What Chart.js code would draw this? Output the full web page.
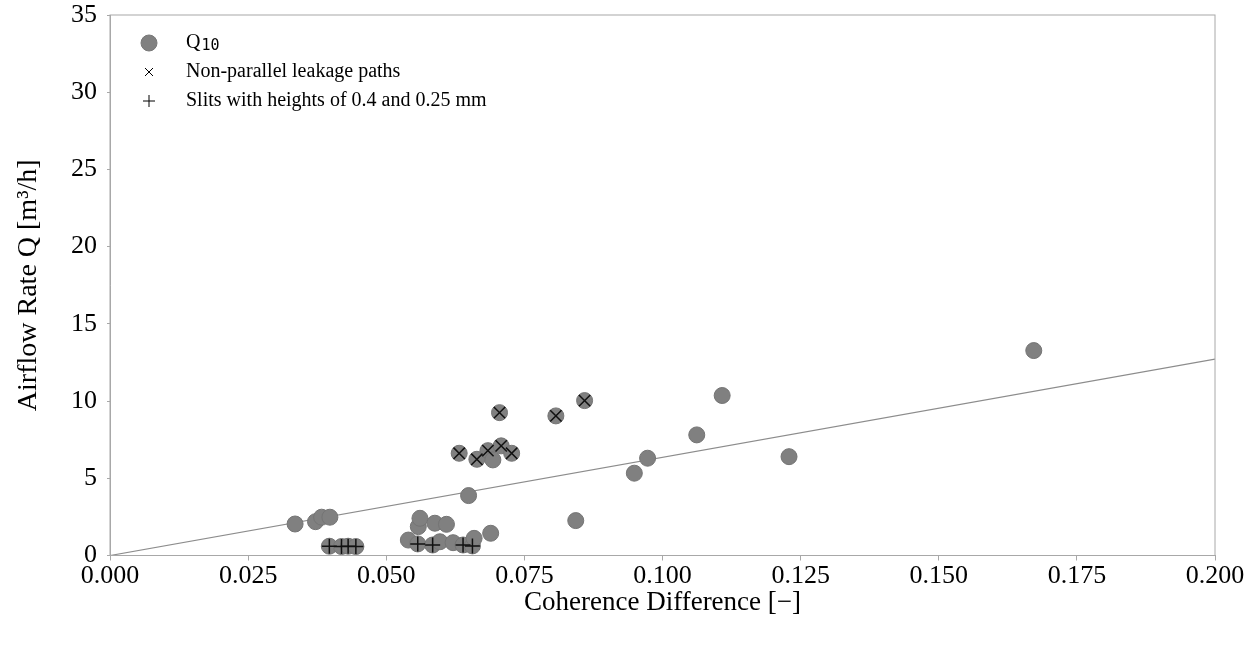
<!DOCTYPE html>
<html>
<head>
    <meta charset='utf-8'>
    <title>Airflow Rate vs Coherence Difference</title>
    <script src='https://cdn.jsdelivr.net/npm/chart.js@4.4.1/dist/chart.umd.min.js'></script>
    <style>
        html, body { margin: 0; padding: 0; background: #fff; }
        #wrap { width: 1260px; height: 649px; }
    </style>
</head>
<body>
<div id="wrap"><canvas id="myChart"></canvas></div>
<script>
// Q10 points (coherence difference, airflow rate)
const qX = [0.0335, 0.0372, 0.0383, 0.0398, 0.0397, 0.0419, 0.0431, 0.0445,
            0.0540, 0.0557, 0.0558, 0.0561, 0.0584, 0.0588, 0.0597, 0.0609, 0.0621,
            0.0639, 0.0656, 0.0659, 0.0649, 0.0689,
            0.0632, 0.0664, 0.0684, 0.0693, 0.0708, 0.0727, 0.0705, 0.0807, 0.0859,
            0.0843, 0.0949, 0.0973, 0.1062, 0.1108, 0.1229, 0.1672];
const qY = [2.04, 2.19, 2.48, 2.48, 0.60, 0.58, 0.60, 0.58,
            1.00, 0.75, 1.87, 2.41, 0.68, 2.09, 0.89, 2.02, 0.83,
            0.68, 0.62, 1.11, 3.88, 1.44,
            6.62, 6.23, 6.79, 6.19, 7.10, 6.62, 9.25, 9.04, 10.03,
            2.26, 5.33, 6.30, 7.81, 10.36, 6.40, 13.27];

// non-parallel leakage paths (x marks)
const npX = [0.0632, 0.0664, 0.0684, 0.0708, 0.0727, 0.0705, 0.0807, 0.0859];
const npY = [6.62, 6.23, 6.79, 7.10, 6.62, 9.25, 9.04, 10.03];

// slits 0.4 / 0.25 mm (+ marks)
const slitX = [0.0397, 0.0419, 0.0431, 0.0445, 0.0557, 0.0584, 0.0639, 0.0656];
const slitY = [0.60, 0.58, 0.60, 0.58, 0.75, 0.68, 0.68, 0.62];

// fitted line through origin
const fitX = [0, 0.2];
const fitY = [0, 12.72];

const xTicks = [0, 0.025, 0.05, 0.075, 0.1, 0.125, 0.15, 0.175, 0.2];
const legendLabels = ['Q', 'Non-parallel leakage paths', 'Slits with heights of 0.4 and 0.25 mm'];
const legendSub = '10';

const pts = (xs, ys) => xs.map((x, i) => ({x: x, y: ys[i]}));
const serif = "'Liberation Serif', 'Times New Roman', serif";
const frameColor = '#a8a8a8';

// box around plot + simple legend in the top left corner
const framePlugin = {
    id: 'frame',
    afterDatasetsDraw(chart) {
        const {ctx, chartArea: a} = chart;
        ctx.save();
        ctx.strokeStyle = frameColor;
        ctx.lineWidth = 1;
        ctx.strokeRect(a.left, a.top, a.right - a.left, a.bottom - a.top);

        const lx = a.left + 39, tx = a.left + 76;
        const rows = [a.top + 28, a.top + 57, a.top + 86];
        // circle
        ctx.fillStyle = '#808080';
        ctx.strokeStyle = '#777';
        ctx.beginPath();
        ctx.arc(lx, rows[0], 8, 0, Math.PI * 2);
        ctx.fill();
        ctx.stroke();
        // x and +
        ctx.strokeStyle = '#000';
        ctx.lineWidth = 1;
        ctx.beginPath();
        ctx.moveTo(lx - 4, rows[1] - 4); ctx.lineTo(lx + 4, rows[1] + 4);
        ctx.moveTo(lx + 4, rows[1] - 4); ctx.lineTo(lx - 4, rows[1] + 4);
        ctx.moveTo(lx - 6, rows[2]); ctx.lineTo(lx + 6, rows[2]);
        ctx.moveTo(lx, rows[2] - 6); ctx.lineTo(lx, rows[2] + 6);
        ctx.stroke();

        ctx.fillStyle = '#000';
        ctx.font = '20px ' + serif;
        ctx.textBaseline = 'middle';
        legendLabels.forEach((t, i) => ctx.fillText(t, tx, rows[i]));
        const qw = ctx.measureText(legendLabels[0]).width;
        ctx.font = "15px 'DejaVu Sans Mono', monospace";
        ctx.fillText(legendSub, tx + qw + 1, rows[0] + 3);
        ctx.restore();
    }
};

const ctx = document.getElementById('myChart').getContext('2d');
const myChart = new Chart(ctx, {
    data: {
        datasets: [{
            type: 'line',
            label: 'fit',
            order: 4,
            data: pts(fitX, fitY),
            borderColor: '#8c8c8c',
            borderWidth: 1.2,
            pointRadius: 0,
            fill: false
        }, {
            type: 'scatter',
            label: 'Q10',
            order: 3,
            data: pts(qX, qY),
            backgroundColor: '#808080',
            borderColor: '#747474',
            borderWidth: 1,
            pointRadius: 8
        }, {
            type: 'scatter',
            label: legendLabels[1],
            order: 2,
            data: pts(npX, npY),
            pointStyle: 'crossRot',
            borderColor: '#111',
            borderWidth: 1.5,
            pointRadius: 8
        }, {
            type: 'scatter',
            label: legendLabels[2],
            order: 1,
            data: pts(slitX, slitY),
            pointStyle: 'cross',
            borderColor: '#111',
            borderWidth: 1.5,
            pointRadius: 7.5
        }]
    },
    options: {
        responsive: true,
        maintainAspectRatio: false,
        animation: false,
        layout: { padding: { top: 15, right: 45, left: 0, bottom: 0 } },
        plugins: {
            legend: { display: false },
            tooltip: { enabled: false }
        },
        scales: {
            x: {
                type: 'linear',
                min: 0,
                max: 0.2,
                afterBuildTicks: s => { s.ticks = xTicks.map(v => ({value: v})); },
                afterFit: s => { s.height = 93.5; },
                border: { color: frameColor },
                grid: { drawOnChartArea: false, tickLength: 5, color: frameColor },
                ticks: {
                    color: '#000',
                    padding: 0,
                    maxRotation: 0,
                    font: { family: serif, size: 26 },
                    callback: v => v.toFixed(3)
                },
                title: {
                    display: true,
                    text: 'Coherence Difference [\u2212]',
                    color: '#000',
                    font: { family: serif, size: 27 },
                    padding: { top: 6, bottom: 30 }
                }
            },
            y: {
                min: 0,
                max: 35,
                afterFit: s => { s.width = 110; s.paddingTop = 0; s.paddingBottom = 0; },
                border: { color: frameColor },
                grid: { drawOnChartArea: false, tickLength: 3, color: frameColor },
                ticks: {
                    stepSize: 5,
                    color: '#000',
                    padding: 10,
                    font: { family: serif, size: 26 }
                },
                title: {
                    display: true,
                    text: 'Airflow Rate Q [m\u00b3/h]',
                    color: '#000',
                    font: { family: serif, size: 28 },
                    padding: { top: 12, bottom: 8 }
                }
            }
        }
    },
    plugins: [framePlugin]
});
</script>
</body>
</html>
